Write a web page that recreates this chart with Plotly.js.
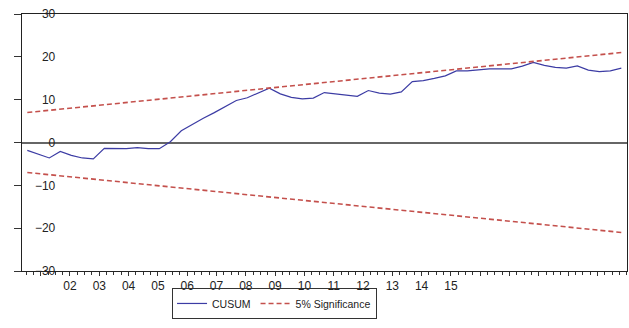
<!DOCTYPE html>
<html>
<head>
<meta charset="utf-8">
<script src="https://cdn.plot.ly/plotly-3.0.1.min.js"></script>
<style>html,body{margin:0;padding:0;background:#fff;}#chart{width:629px;height:328px;}</style>
</head>
<body>
<div id="chart"></div>
<script>
// Observation timing (evenly spaced observations, in fractional years)
const obsStart = 2000.543;
const obsStep = 0.37543;

// CUSUM values
const cusum = [
  -1.84, -2.72, -3.61, -2.07, -3.00, -3.61, -3.84, -1.37, -1.44, -1.44,
  -1.21, -1.44, -1.44, 0.19, 2.75, 4.26, 5.66, 6.98, 8.41, 9.80,
  10.45, 11.50, 12.69, 11.36, 10.55, 10.20, 10.36, 11.66, 11.36, 11.06,
  10.78, 12.13, 11.52, 11.29, 11.83, 14.23, 14.46, 14.97, 15.55, 16.72,
  16.72, 16.95, 17.18, 17.18, 17.18, 17.83, 18.70, 18.00, 17.53, 17.35,
  17.88, 16.90, 16.55, 16.72, 17.35
];

// 5% significance bounds at the first and last observation
const upperBound = [7.0, 21.0];
const lowerBound = [-7.0, -21.0];

// Axis ticks
const yearTicks = [2001,2002,2003,2004,2005,2006,2007,2008,2009,2010,2011,2012,2013,2014,2015,2016,2017,2018,2019,2020];
const yearLabels = ["","02","03","04","05","06","07","08","09","10","11","12","13","14","15","","","","",""];
const yTicks = [-30,-20,-10,0,10,20,30];

const obsX = cusum.map((_, i) => obsStart + obsStep * i);
const boundX = [obsX[0], obsX[obsX.length - 1]];

const lineBlue = '#3c3ca4';
const dashRed = '#c4504c';

const traces = [
  {x: obsX, y: cusum, type: 'scatter', mode: 'lines', name: 'CUSUM',
   line: {color: lineBlue, width: 1.2}, yaxis: 'y', hoverinfo: 'skip'},
  {x: boundX, y: upperBound, type: 'scatter', mode: 'lines', name: '5% Significance',
   legendgroup: 'sig', line: {color: dashRed, width: 1.6, dash: '5px,3px'}, yaxis: 'y2', hoverinfo: 'skip'},
  {x: boundX, y: lowerBound, type: 'scatter', mode: 'lines', name: '5% Significance',
   legendgroup: 'sig', showlegend: false, line: {color: dashRed, width: 1.6, dash: '5px,3px'}, yaxis: 'y2', hoverinfo: 'skip'}
];

const font = {family: 'Liberation Sans, Arial, sans-serif', size: 12, color: '#222'};

const layout = {
  width: 629, height: 328,
  margin: {l: 22, r: 2, t: 14, b: 57, pad: 0},
  paper_bgcolor: '#fff', plot_bgcolor: '#fff',
  font: font,
  showlegend: true,
  legend: {orientation: 'h', x: 0.248, xanchor: 'left', y: -0.066, yanchor: 'top',
           bordercolor: '#333', borderwidth: 1, font: {family: font.family, size: 10.5, color: '#222'},
           itemwidth: 30, tracegroupgap: 0, bgcolor: 'rgba(255,255,255,0)'},
  xaxis: {
    range: [2000.362, 2021.01], showgrid: false, zeroline: false,
    showline: true, linecolor: '#222', linewidth: 1, mirror: true,
    tickmode: 'array', tickvals: yearTicks, ticktext: yearLabels,
    ticks: 'outside', ticklen: 4, tickcolor: '#333', tickwidth: 1,
    minor: {dtick: 0.25, tick0: 2000, ticks: 'outside', ticklen: 2.5, tickcolor: '#333', showgrid: false},
    tickfont: font, automargin: false, fixedrange: true
  },
  yaxis: {
    range: [-30, 30], anchor: 'free', position: 0.055, side: 'left',
    showgrid: false, zeroline: true, zerolinecolor: '#666', zerolinewidth: 2, showline: false,
    tickmode: 'array', tickvals: yTicks, ticks: '', ticklabelposition: 'outside',
    tickfont: font, automargin: false, fixedrange: true
  },
  yaxis2: {
    range: [-30, 30], overlaying: 'y', anchor: 'x', side: 'left',
    showgrid: false, zeroline: false,
    showline: true, linecolor: '#222', linewidth: 1, mirror: true,
    tickmode: 'array', tickvals: yTicks, ticks: 'outside', ticklen: 7, tickcolor: '#333',
    showticklabels: false, automargin: false, fixedrange: true
  }
};

Plotly.newPlot('chart', traces, layout, {staticPlot: true, displayModeBar: false});
</script>
</body>
</html>
